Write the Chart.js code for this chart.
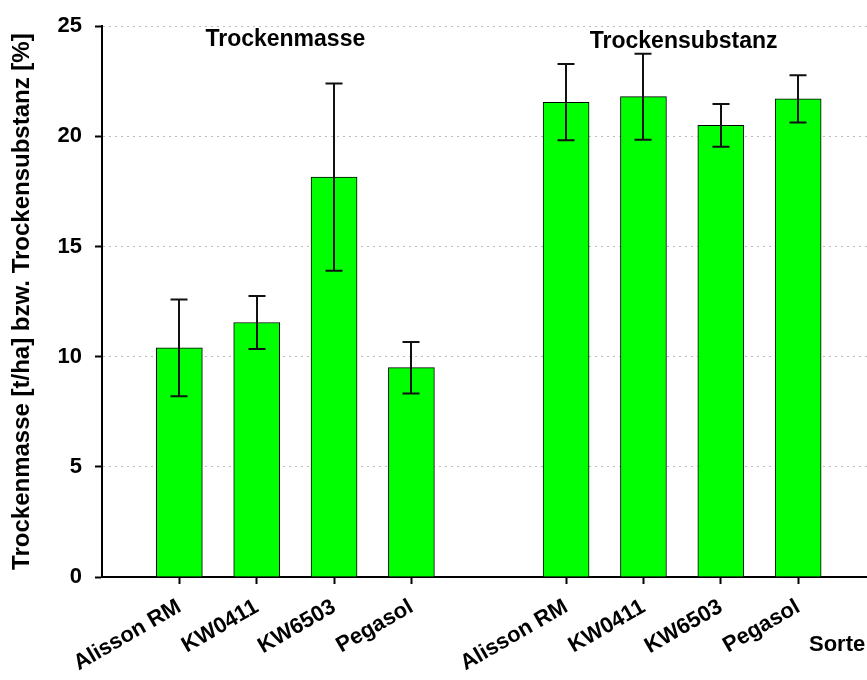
<!DOCTYPE html>
<html>
<head>
<meta charset="utf-8">
<script src="https://cdn.jsdelivr.net/npm/chart.js@4.4.0/dist/chart.umd.min.js"></script>
<style>
    html, body { margin: 0; padding: 0; background: #fff; }
    #wrap { width: 867px; height: 680px; }
</style>
</head>
<body>
<div id="wrap"><canvas id="chart" width="867" height="680"></canvas></div>
<script>
// Sorten und Messwerte (Mittelwert +/- Fehler)
const sorten = ['Alisson RM', 'KW0411', 'KW6503', 'Pegasol'];
const slotsMasse = [1, 2, 3, 4];
const slotsSubstanz = [6, 7, 8, 9];
const masse = [10.4, 11.55, 18.15, 9.5];
const masseErr = [2.2, 1.2, 4.25, 1.17];
const substanz = [21.55, 21.8, 20.5, 21.7];
const substanzErr = [1.73, 1.95, 0.97, 1.07];
const yTicks = [0, 5, 10, 15, 20, 25];

const FONT = "'Liberation Sans', Arial, sans-serif";

const slots = slotsMasse.concat(slotsSubstanz);
const values = masse.concat(substanz);
const errors = masseErr.concat(substanzErr);
const labels = sorten.concat(sorten);

function labelFor(v) {
    const i = slots.indexOf(v);
    return i >= 0 ? labels[i] : '';
}

// Fehlerbalken
const errorBars = {
    id: 'errorBars',
    afterDatasetsDraw(chart) {
        const ctx = chart.ctx;
        const y = chart.scales.y;
        const meta = chart.getDatasetMeta(0);
        ctx.save();
        ctx.strokeStyle = '#111';
        ctx.lineWidth = 2;
        meta.data.forEach((bar, i) => {
            const top = y.getPixelForValue(values[i] + errors[i]);
            const bot = y.getPixelForValue(values[i] - errors[i]);
            const x = Math.round(bar.x);
            ctx.beginPath();
            ctx.moveTo(x, top); ctx.lineTo(x, bot);
            ctx.moveTo(x - 8.5, top); ctx.lineTo(x + 8.5, top);
            ctx.moveTo(x - 8.5, bot); ctx.lineTo(x + 8.5, bot);
            ctx.stroke();
        });
        ctx.restore();
    }
};

// Gruppentitel und Achsentitel "Sorte"
const annotations = {
    id: 'annotations',
    afterDraw(chart) {
        const ctx = chart.ctx;
        const x = chart.scales.x;
        ctx.save();
        ctx.fillStyle = '#000';
        ctx.font = 'bold 23px ' + FONT;
        ctx.textBaseline = 'alphabetic';
        ctx.textAlign = 'center';
        ctx.fillText('Trockenmasse', x.getPixelForValue(2.37), 46);
        ctx.fillText('Trockensubstanz', x.getPixelForValue(7.52), 48);
        ctx.textAlign = 'left';
        ctx.font = 'bold 22px ' + FONT;
        ctx.fillText('Sorte', 809, 651);
        ctx.restore();
    }
};

new Chart(document.getElementById('chart'), {
    type: 'bar',
    data: {
        datasets: [{
            data: slots.map((s, i) => ({ x: s, y: values[i] })),
            backgroundColor: '#00FF00',
            borderColor: '#000',
            borderWidth: 1,
            barThickness: 46
        }]
    },
    options: {
        responsive: false,
        animation: false,
        layout: { padding: { top: 20, right: 0, left: 0, bottom: 0 } },
        plugins: {
            legend: { display: false },
            tooltip: { enabled: false }
        },
        scales: {
            x: {
                type: 'linear',
                offset: false,
                min: 0,
                max: 9.89,
                afterBuildTicks: s => { s.ticks = slots.map(v => ({ value: v })); },
                afterFit: s => { s.height = 103; },
                ticks: {
                    callback: v => labelFor(v),
                    autoSkip: false,
                    minRotation: 30,
                    maxRotation: 30,
                    padding: 10,
                    color: '#000',
                    font: { family: FONT, size: 22, weight: 'bold' }
                },
                grid: { offset: false, drawOnChartArea: false, tickLength: 7, tickColor: '#000', tickWidth: 2 },
                border: { color: '#000', width: 2 }
            },
            y: {
                min: 0,
                max: 25,
                afterBuildTicks: s => { s.ticks = yTicks.map(v => ({ value: v })); },
                afterFit: s => { s.width = 102; },
                ticks: {
                    padding: 13,
                    color: '#000',
                    font: { family: FONT, size: 22, weight: 'bold' }
                },
                grid: {
                    color: c => (c.tick && c.tick.value === 0) ? 'rgba(0,0,0,0)' : '#bdbdbd',
                    lineWidth: 1,
                    tickLength: 7,
                    tickColor: '#000',
                    tickWidth: 2,
                    tickBorderDash: []
                },
                border: { color: '#000', width: 2, dash: [2, 4] },
                title: {
                    display: true,
                    text: 'Trockenmasse [t/ha] bzw. Trockensubstanz [%]',
                    color: '#000',
                    font: { family: FONT, size: 24, weight: 'bold' },
                    padding: { top: 8, bottom: 0 }
                }
            }
        }
    },
    plugins: [errorBars, annotations]
});
</script>
</body>
</html>
